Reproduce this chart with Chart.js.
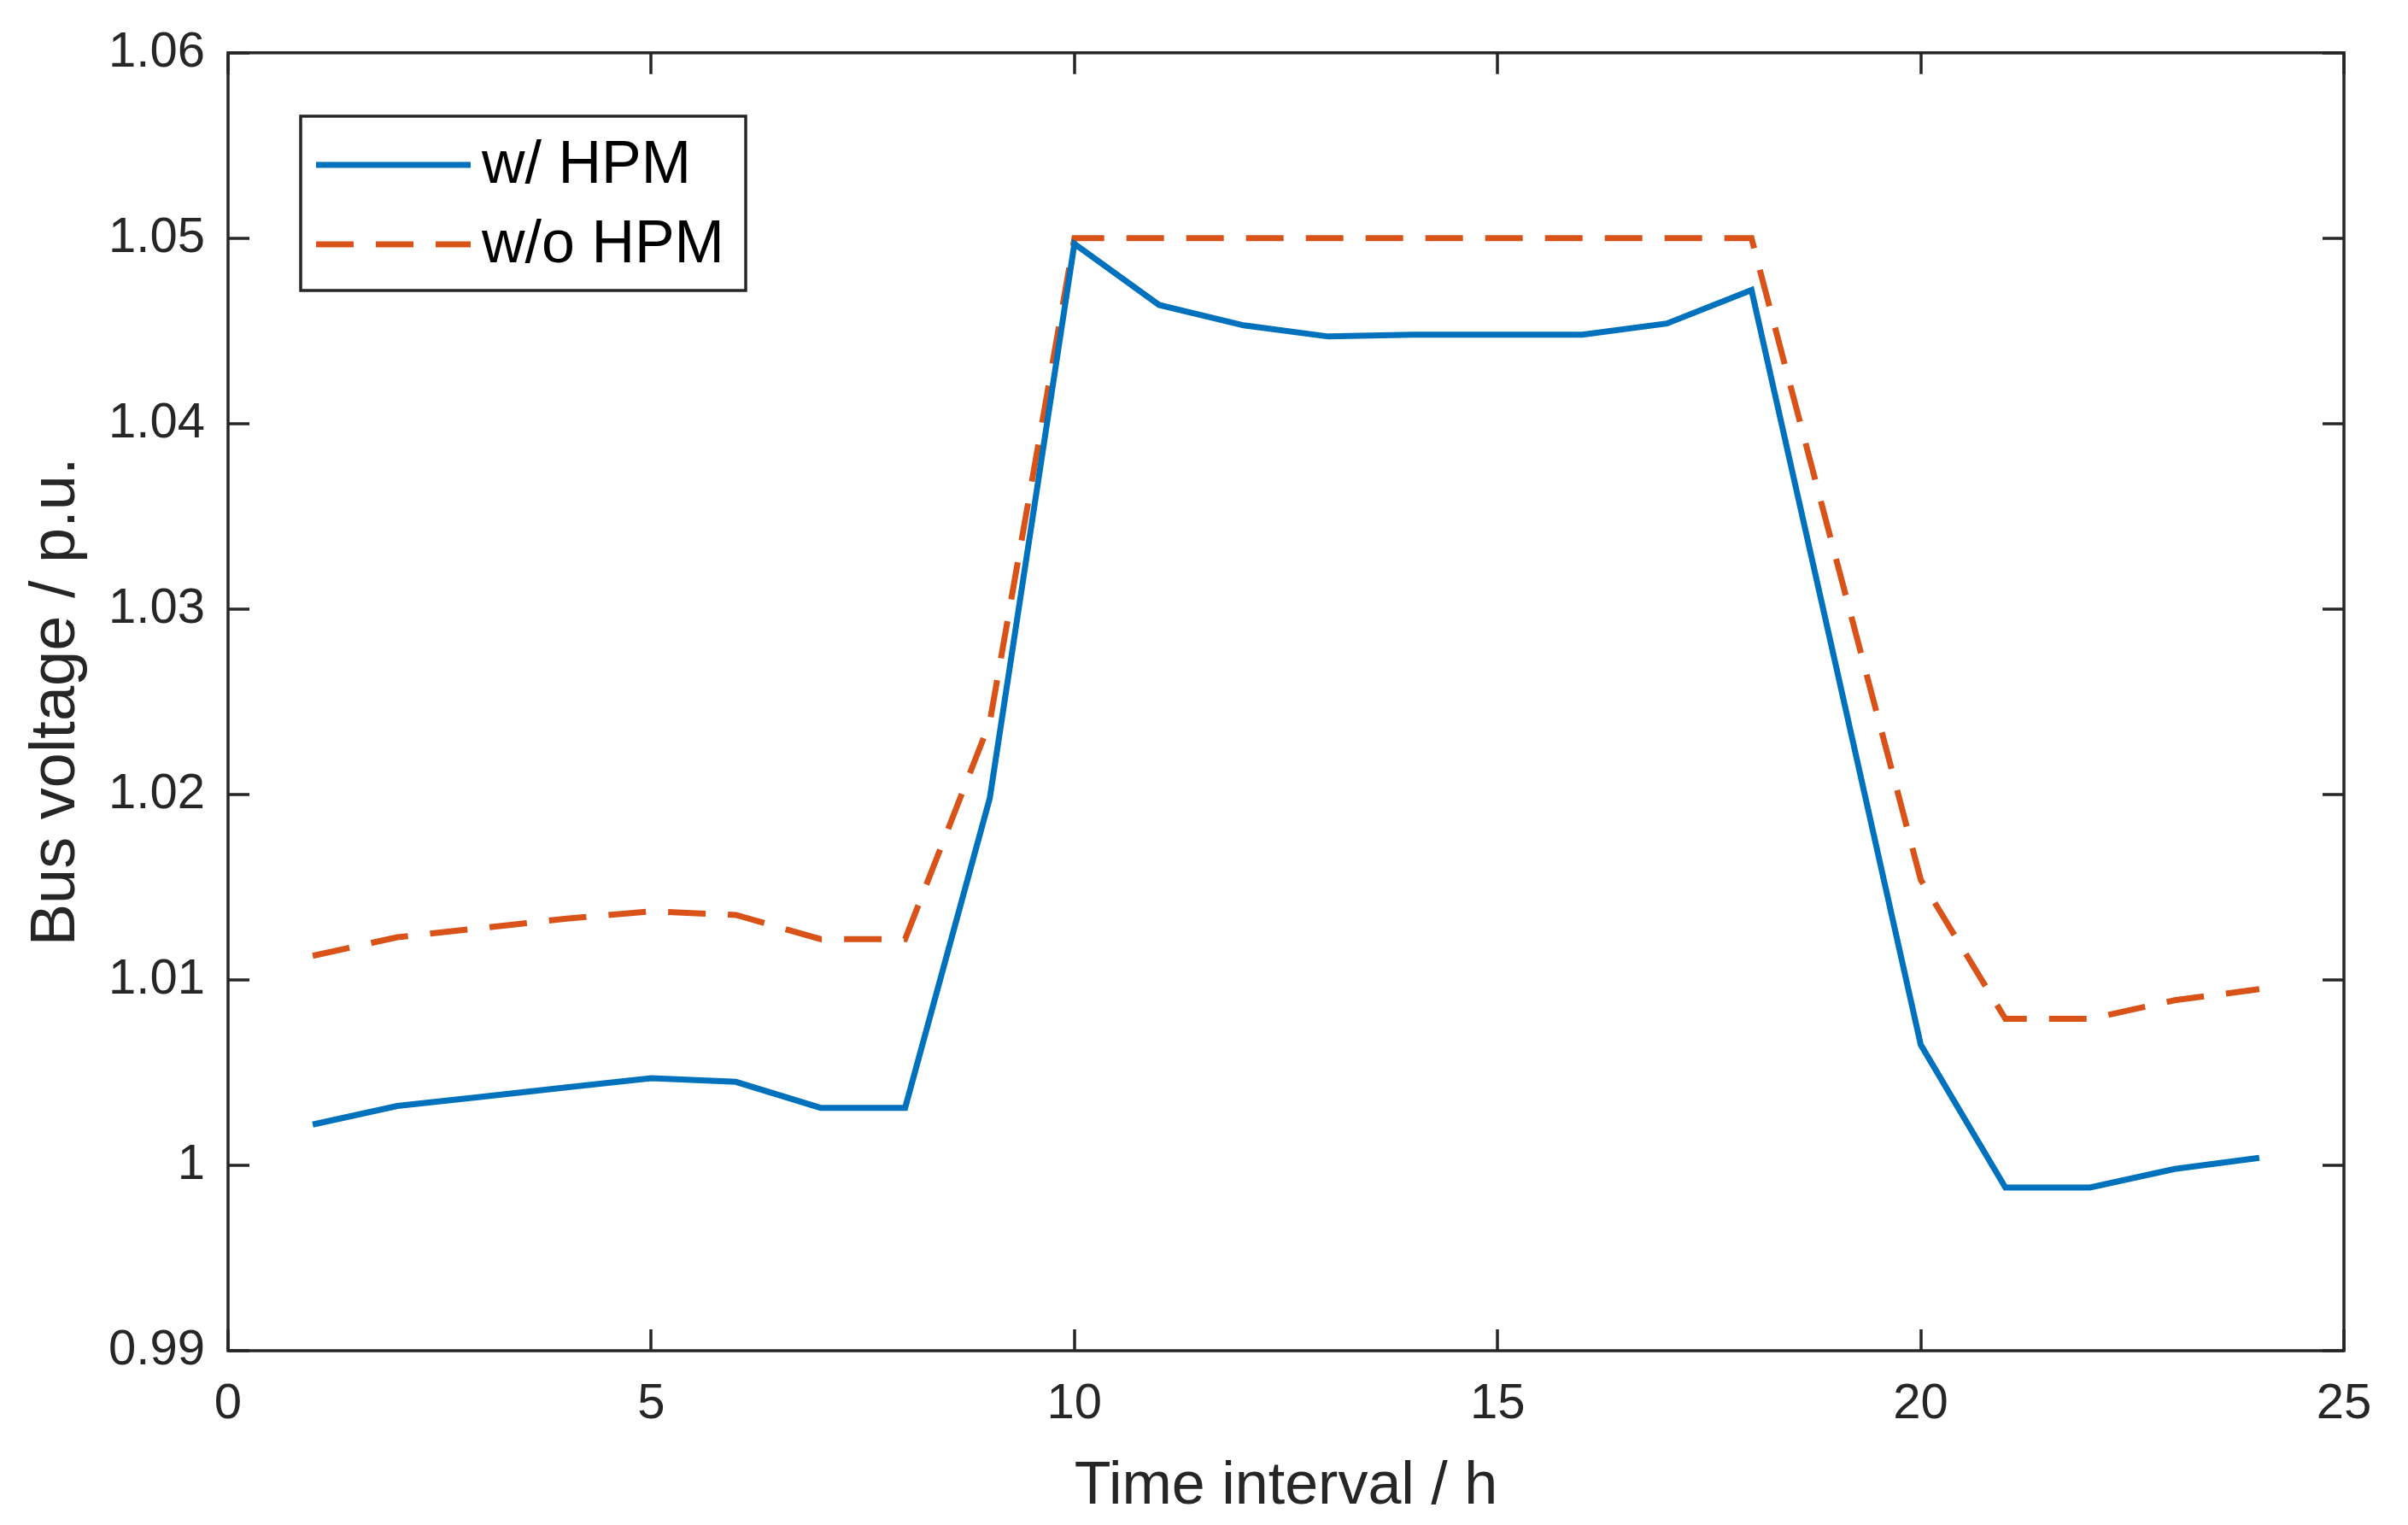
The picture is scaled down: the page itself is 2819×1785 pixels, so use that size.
<!DOCTYPE html>
<html>
<head>
<meta charset="utf-8">
<script src="https://cdn.jsdelivr.net/npm/chart.js@4.4.1/dist/chart.umd.min.js"></script>
<style>
  html, body { margin: 0; padding: 0; background: #fff; }
  #wrap { width: 2819px; height: 1785px; }
</style>
</head>
<body>
<div id="wrap"><canvas id="chart-voltage" width="2819" height="1785"></canvas></div>
<script>
// ── data ────────────────────────────────────────────────────────────────────
const hours = [1,2,3,4,5,6,7,8,9,10,11,12,13,14,15,16,17,18,19,20,21,22,23,24];
const withHPM = [1.0022,1.0032,1.0037,1.0042,1.0047,1.0045,1.0031,1.0031,1.0198,1.0497,1.0464,1.0453,1.0447,1.0448,1.0448,1.0448,1.0454,1.0472,1.0269,1.0065,0.9988,0.9988,0.9998,1.0004];
const withoutHPM = [1.0113,1.0123,1.0128,1.0133,1.0137,1.0135,1.0122,1.0122,1.0239,1.0500,1.0500,1.0500,1.0500,1.0500,1.0500,1.0500,1.0500,1.0500,1.0327,1.0154,1.0079,1.0079,1.0089,1.0095];
const seriesNames = ["w/ HPM", "w/o HPM"];
const xLimits = [0, 25], xStep = 5;
const yLimits = [0.99, 1.06], yStep = 0.01;

const AXIS = "#262626";
const BLUE = "#0072BD";
const ORANGE = "#D95319";
const FONT = "'Liberation Sans', Arial, Helvetica, sans-serif";

// matlab-style box with inward ticks on all four sides
const boxTicks = {
  id: "boxTicks",
  afterDatasetsDraw(chart) {
    const { ctx, chartArea: a, scales: { x, y } } = chart;
    const len = 25;
    ctx.save();
    ctx.strokeStyle = AXIS;
    ctx.lineWidth = 3.5;
    ctx.beginPath();
    x.ticks.forEach(t => {
      const px = Math.round(x.getPixelForValue(t.value));
      ctx.moveTo(px, a.bottom); ctx.lineTo(px, a.bottom - len);
      ctx.moveTo(px, a.top); ctx.lineTo(px, a.top + len);
    });
    y.ticks.forEach(t => {
      const py = Math.round(y.getPixelForValue(t.value));
      ctx.moveTo(a.left, py); ctx.lineTo(a.left + len, py);
      ctx.moveTo(a.right, py); ctx.lineTo(a.right - len, py);
    });
    ctx.stroke();
    ctx.strokeRect(a.left, a.top, a.right - a.left, a.bottom - a.top);
    ctx.restore();
  }
};

// legend box in the upper-left corner
const innerLegend = {
  id: "innerLegend",
  afterDraw(chart) {
    const { ctx } = chart;
    const bx = 352, by = 136, bw = 521, bh = 204;
    ctx.save();
    ctx.fillStyle = "#fff";
    ctx.fillRect(bx, by, bw, bh);
    ctx.strokeStyle = AXIS;
    ctx.lineWidth = 3.5;
    ctx.strokeRect(bx, by, bw, bh);
    ctx.font = `70px ${FONT}`;
    ctx.textBaseline = "middle";
    ctx.fillStyle = "#000";
    chart.data.datasets.forEach((ds, i) => {
      const ly = by + 57 + i * 93;
      ctx.strokeStyle = ds.borderColor;
      ctx.lineWidth = ds.borderWidth;
      ctx.setLineDash(ds.borderDash || []);
      ctx.beginPath();
      ctx.moveTo(bx + 18, ly); ctx.lineTo(bx + 199, ly);
      ctx.stroke();
      ctx.setLineDash([]);
      ctx.fillText(ds.label, bx + 212, ly + 2);
    });
    ctx.restore();
  }
};

new Chart(document.getElementById("chart-voltage").getContext("2d"), {
  type: "line",
  data: {
    datasets: [
      { label: seriesNames[0], data: hours.map((h, i) => ({ x: h, y: withHPM[i] })),
        borderColor: BLUE, borderWidth: 7, pointRadius: 0, tension: 0, fill: false },
      { label: seriesNames[1], data: hours.map((h, i) => ({ x: h, y: withoutHPM[i] })),
        borderColor: ORANGE, borderWidth: 7, borderDash: [44, 26], pointRadius: 0, tension: 0, fill: false },
    ]
  },
  options: {
    responsive: false,
    animation: false,
    devicePixelRatio: 1,
    layout: { padding: { top: 44, right: 75, left: 0, bottom: 0 } },
    plugins: { legend: { display: false }, tooltip: { enabled: false } },
    scales: {
      x: {
        type: "linear", min: xLimits[0], max: xLimits[1],
        afterFit: s => { s.height = 204; },
        grid: { display: false, drawTicks: false },
        border: { display: false },
        ticks: { stepSize: xStep, padding: 28, color: AXIS, font: { family: FONT, size: 58 } },
        title: { display: true, text: "Time interval / h", color: AXIS, padding: { bottom: 2, top: 0 },
                 font: { family: FONT, size: 70 } }
      },
      y: {
        type: "linear", min: yLimits[0], max: yLimits[1],
        afterFit: s => { s.width = 267; },
        grid: { display: false, drawTicks: false },
        border: { display: false },
        ticks: { stepSize: yStep, padding: 27, color: AXIS, font: { family: FONT, size: 58 },
                 callback: v => String(Number(v.toFixed(2))) },
        title: { display: true, text: "Bus voltage / p.u.", color: AXIS, padding: { top: 22, bottom: 0 },
                 font: { family: FONT, size: 74 } }
      }
    }
  },
  plugins: [boxTicks, innerLegend]
});
</script>
</body>
</html>
